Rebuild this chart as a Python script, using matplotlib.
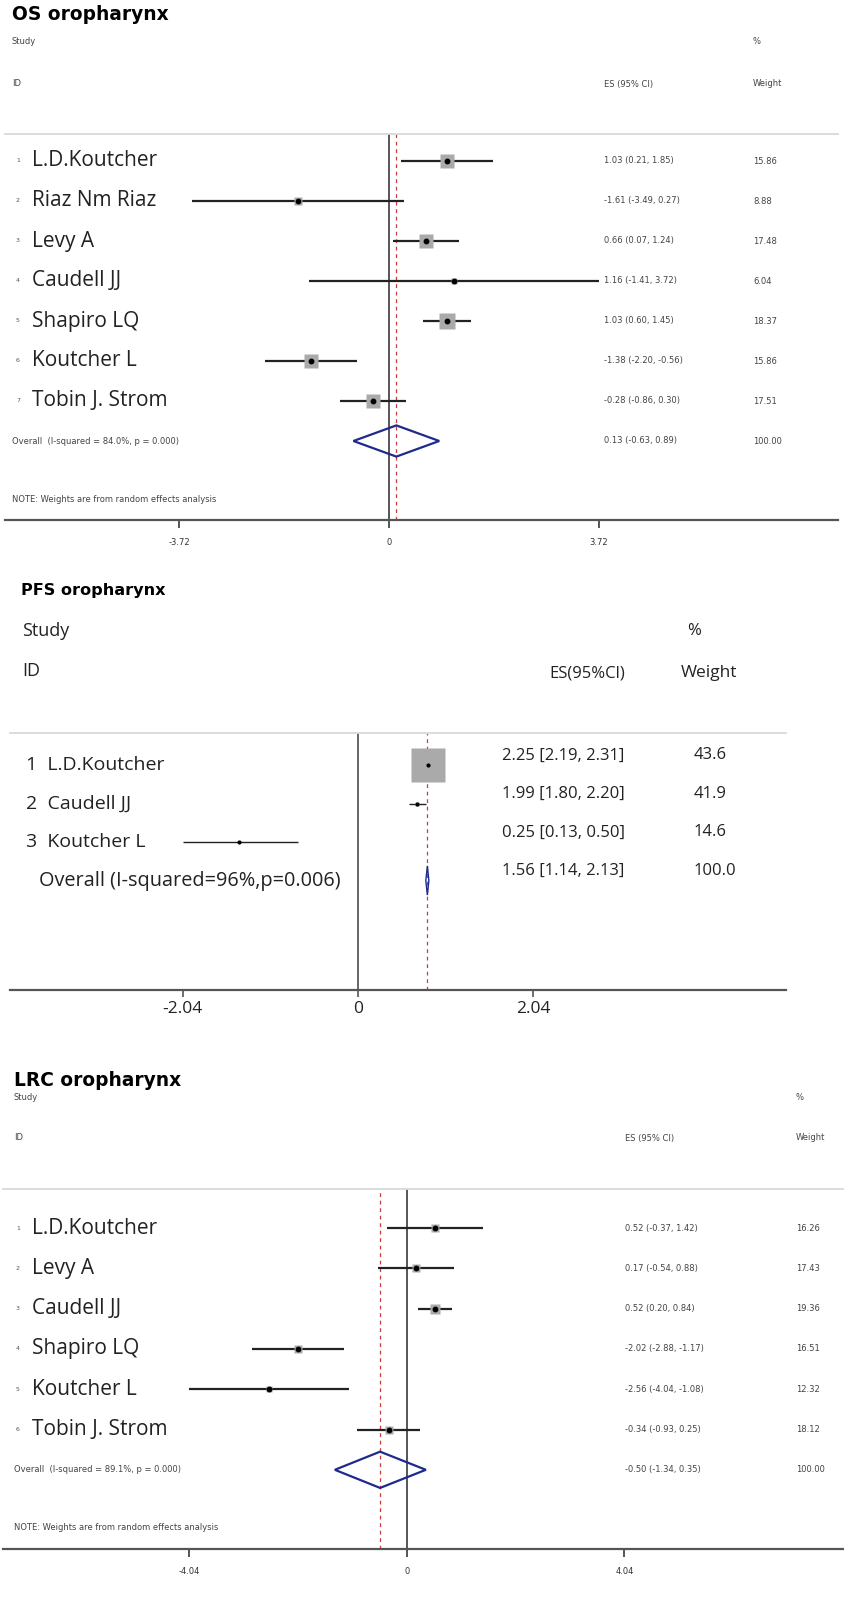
import math
import matplotlib.pyplot as plt
import matplotlib.transforms as mtransforms
from matplotlib.patches import Polygon

W, H = 845, 1601

# ---------------- data ----------------
# OS oropharynx
os_studies = ["L.D.Koutcher", "Riaz Nm Riaz", "Levy A", "Caudell JJ",
              "Shapiro LQ", "Koutcher L", "Tobin J. Strom"]
os_es = [1.03, -1.61, 0.66, 1.16, 1.03, -1.38, -0.28]
os_lo = [0.21, -3.49, 0.07, -1.41, 0.60, -2.20, -0.86]
os_hi = [1.85, 0.27, 1.24, 3.72, 1.45, -0.56, 0.30]
os_weight = [15.86, 8.88, 17.48, 6.04, 18.37, 15.86, 17.51]
os_overall = [0.13, -0.63, 0.89]
os_overall_label = "Overall  (I-squared = 84.0%, p = 0.000)"
os_ticks = [-3.72, 0, 3.72]

# PFS oropharynx (hazard ratios, drawn on log scale)
pfs_studies = ["L.D.Koutcher", "Caudell JJ", "Koutcher L"]
pfs_hr = [2.25, 1.99, 0.25]
pfs_lo = [2.19, 1.80, 0.13]
pfs_hi = [2.31, 2.20, 0.50]
pfs_weight = ["43.6", "41.9", "14.6"]
pfs_overall = [1.56, 1.14, 2.13]
pfs_overall_drawn = [2.24, 2.20, 2.28]   # where the diamond sits in the picture
pfs_overall_label = "Overall (I-squared=96%,p=0.006)"
pfs_ticks = [-2.04, 0, 2.04]

# LRC oropharynx
lrc_studies = ["L.D.Koutcher", "Levy A", "Caudell JJ", "Shapiro LQ",
               "Koutcher L", "Tobin J. Strom"]
lrc_es = [0.52, 0.17, 0.52, -2.02, -2.56, -0.34]
lrc_lo = [-0.37, -0.54, 0.20, -2.88, -4.04, -0.93]
lrc_hi = [1.42, 0.88, 0.84, -1.17, -1.08, 0.25]
lrc_weight = [16.26, 17.43, 19.36, 16.51, 12.32, 18.12]
lrc_overall = [-0.50, -1.34, 0.35]
lrc_overall_label = "Overall  (I-squared = 89.1%, p = 0.000)"
lrc_ticks = [-4.04, 0, 4.04]

note = "NOTE: Weights are from random effects analysis"

# ---------------- helpers ----------------
NAME_FONT = "Open Sans"
TITLE_FONT = "DejaVu Sans"
SMALL_FONT = "DejaVu Sans"
SMALL = 6.0
NAVY = "#1f2a8c"
RED = "#cc3b3b"

fig = plt.figure(figsize=(W / 100, H / 100), dpi=100)
px = mtransforms.Affine2D().scale(1 / W, -1 / H).translate(0, 1) + fig.transFigure


def panel(x0, x1, y_top, y_axis, zero_px, unit_px, row0_px, row_dy):
    ax = fig.add_axes([x0 / W, 1 - y_axis / H, (x1 - x0) / W, (y_axis - y_top) / H])
    ax.set_xlim((x0 - zero_px) / unit_px, (x1 - zero_px) / unit_px)
    ax.set_ylim((y_axis - row0_px) / row_dy, (y_top - row0_px) / row_dy)
    for s in ["left", "right"]:
        ax.spines[s].set_visible(False)
    ax.spines["top"].set_color("#d9d9d9")
    ax.spines["top"].set_linewidth(1.3)
    ax.spines["bottom"].set_color("#555555")
    ax.spines["bottom"].set_linewidth(1.6)
    ax.set_yticks([])
    ax.patch.set_alpha(0)
    row_tr = mtransforms.blended_transform_factory(px, ax.transData)
    return ax, row_tr


def ftext(x, y, s, **kw):
    fig.text(x, y, s, transform=px, **kw)


def small(ax, x, y, s, tr):
    ax.text(x, y, s, transform=tr, fontsize=SMALL, family=SMALL_FONT,
            va="center", color="#444")


def stata_panel(title, studies, es, lo, hi, weight, overall, overall_label, ticks,
                geom, col_es, col_w, box_k, diamond_h):
    (x0, x1, x_title, y_title, y_study, y_id, y_top, y_axis, zero_px, unit_px,
     row0, dy, y_note) = geom
    ax, tr = panel(x0, x1, y_top, y_axis, zero_px, unit_px, row0, dy)
    ftext(x_title, y_title, title, fontsize=13.4, fontweight="bold",
          family=TITLE_FONT, va="center")
    for x, y, s in [(x_title, y_study, "Study"), (x_title, y_id, "ID"),
                    (col_w, y_study, "%"), (col_es, y_id, "ES (95% CI)"),
                    (col_w, y_id, "Weight")]:
        ftext(x, y, s, fontsize=SMALL, family=SMALL_FONT, va="center", color="#444")

    ax.axvline(0, color="#555555", lw=1.4, zorder=1)
    ax.axvline(overall[0], color=RED, lw=0.9, ls=(0, (3, 3)), zorder=1)
    for i, name in enumerate(studies):
        ax.text(16, i, str(i + 1), transform=tr, fontsize=4.5, family=SMALL_FONT,
                va="center", color="#555")
        ax.text(32, i, name, transform=tr, fontsize=15, family=NAME_FONT,
                va="center", color="#222")
        ax.hlines(i, lo[i], hi[i], color="#222222", lw=1.6, zorder=2)
        ax.plot(es[i], i, marker="s", ms=box_k * weight[i], color="#aaaaaa",
                mec="none", zorder=3)
        ax.plot(es[i], i, marker="o", ms=3.2, color="black", zorder=4)
        small(ax, col_es, i, f"{es[i]:.2f} ({lo[i]:.2f}, {hi[i]:.2f})", tr)
        small(ax, col_w, i, f"{weight[i]:.2f}", tr)
    r = len(studies)
    small(ax, x_title, r, overall_label, tr)
    ax.add_patch(Polygon([(overall[1], r), (overall[0], r - diamond_h / 2),
                          (overall[2], r), (overall[0], r + diamond_h / 2)],
                         closed=True, fill=False, ec=NAVY, lw=1.6, zorder=5))
    small(ax, col_es, r, f"{overall[0]:.2f} ({overall[1]:.2f}, {overall[2]:.2f})", tr)
    small(ax, col_w, r, f"{sum(weight):.2f}", tr)
    ftext(x_title, y_note, note, fontsize=SMALL, family=SMALL_FONT, va="center", color="#444")

    ax.set_xticks(ticks)
    ax.set_xticklabels([f"{t:g}" if t == 0 else f"{t:.2f}" for t in ticks],
                       fontsize=SMALL, family=SMALL_FONT, color="#333")
    ax.tick_params(axis="x", length=6, width=1.4, color="#555555", pad=7)
    return ax


# ---------------- OS ----------------
stata_panel("OS oropharynx", os_studies, os_es, os_lo, os_hi, os_weight,
            os_overall, os_overall_label, os_ticks,
            (5, 838, 12, 15, 42, 84, 134, 520, 389, 210 / 3.72, 161, 40.0, 499),
            col_es=604, col_w=753, box_k=0.6, diamond_h=0.78)

# ---------------- LRC ----------------
stata_panel("LRC oropharynx", lrc_studies, lrc_es, lrc_lo, lrc_hi, lrc_weight,
            lrc_overall, lrc_overall_label, lrc_ticks,
            (3, 845, 14, 1080, 1097, 1138, 1189, 1549, 407, 217.5 / 4.04, 1228, 40.3, 1528),
            col_es=625, col_w=796, box_k=0.35, diamond_h=0.9)

# ---------------- PFS ----------------
x0, x1, y_top, y_axis = 10, 786, 733, 990
zero_px, unit_px = 358, 86.0
row0, dy = 765, 38.5
ax, tr = panel(x0, x1, y_top, y_axis, zero_px, unit_px, row0, dy)
ftext(21, 591, "PFS oropharynx", fontsize=11.6, fontweight="bold", family=TITLE_FONT,
      va="center")
ftext(22, 631, "Study", fontsize=13, family=NAME_FONT, va="center", color="#222")
ftext(22, 671, "ID", fontsize=13, family=NAME_FONT, va="center", color="#222")
ftext(687, 631, "%", fontsize=12, family=NAME_FONT, va="center", color="#222")
ftext(587, 673, "ES(95%Cl)", fontsize=12, family=NAME_FONT, va="center", ha="center",
      color="#222")
ftext(709, 673, "Weight", fontsize=12.5, family=NAME_FONT, va="center", ha="center",
      color="#222")

pfs_box_ms = [24, 3, 0]
ax.axvline(0, color="#666666", lw=1.4, zorder=1)
ax.axvline(math.log(pfs_overall_drawn[0]), color=RED, lw=0.9, ls=(0, (3, 3)), zorder=1)
for i, name in enumerate(pfs_studies):
    ax.text(26, i, f"{i + 1}  {name}", transform=tr, fontsize=14, family=NAME_FONT,
            va="center", color="#222")
    ax.hlines(i, math.log(pfs_lo[i]), math.log(pfs_hi[i]), color="#222222", lw=1.0, zorder=2)
    if pfs_box_ms[i]:
        ax.plot(math.log(pfs_hr[i]), i, marker="s", ms=pfs_box_ms[i], color="#aaaaaa",
                mec="none", zorder=3)
    ax.plot(math.log(pfs_hr[i]), i, marker="o", ms=2, color="black", zorder=4)
    ax.text(502, i - 0.25, f"{pfs_hr[i]:.2f} [{pfs_lo[i]:.2f}, {pfs_hi[i]:.2f}]",
            transform=tr, fontsize=12, family=NAME_FONT, va="center", color="#222")
    ax.text(694, i - 0.25, pfs_weight[i], transform=tr, fontsize=12, family=NAME_FONT,
            va="center", color="#222")
r = len(pfs_studies)
ax.text(39, r, pfs_overall_label, transform=tr, fontsize=14.3, family=NAME_FONT,
        va="center", color="#222")
lc, ll, lh = (math.log(v) for v in pfs_overall_drawn)
ax.add_patch(Polygon([(ll, r), (lc, r - 0.38), (lh, r), (lc, r + 0.38)], closed=True,
                     fill=False, ec=NAVY, lw=1.0, zorder=5))
ax.text(502, r - 0.25, f"{pfs_overall[0]:.2f} [{pfs_overall[1]:.2f}, {pfs_overall[2]:.2f}]",
        transform=tr, fontsize=12, family=NAME_FONT, va="center", color="#222")
ax.text(694, r - 0.25, "100.0", transform=tr, fontsize=12, family=NAME_FONT,
        va="center", color="#222")
ax.set_xticks(pfs_ticks)
ax.set_xticklabels([f"{t:g}" if t == 0 else f"{t:.2f}" for t in pfs_ticks],
                   fontsize=12.5, family=NAME_FONT, color="#222")
ax.tick_params(axis="x", length=5, width=1.2, color="#555555", pad=3)

fig.savefig("out.png", dpi=100)
